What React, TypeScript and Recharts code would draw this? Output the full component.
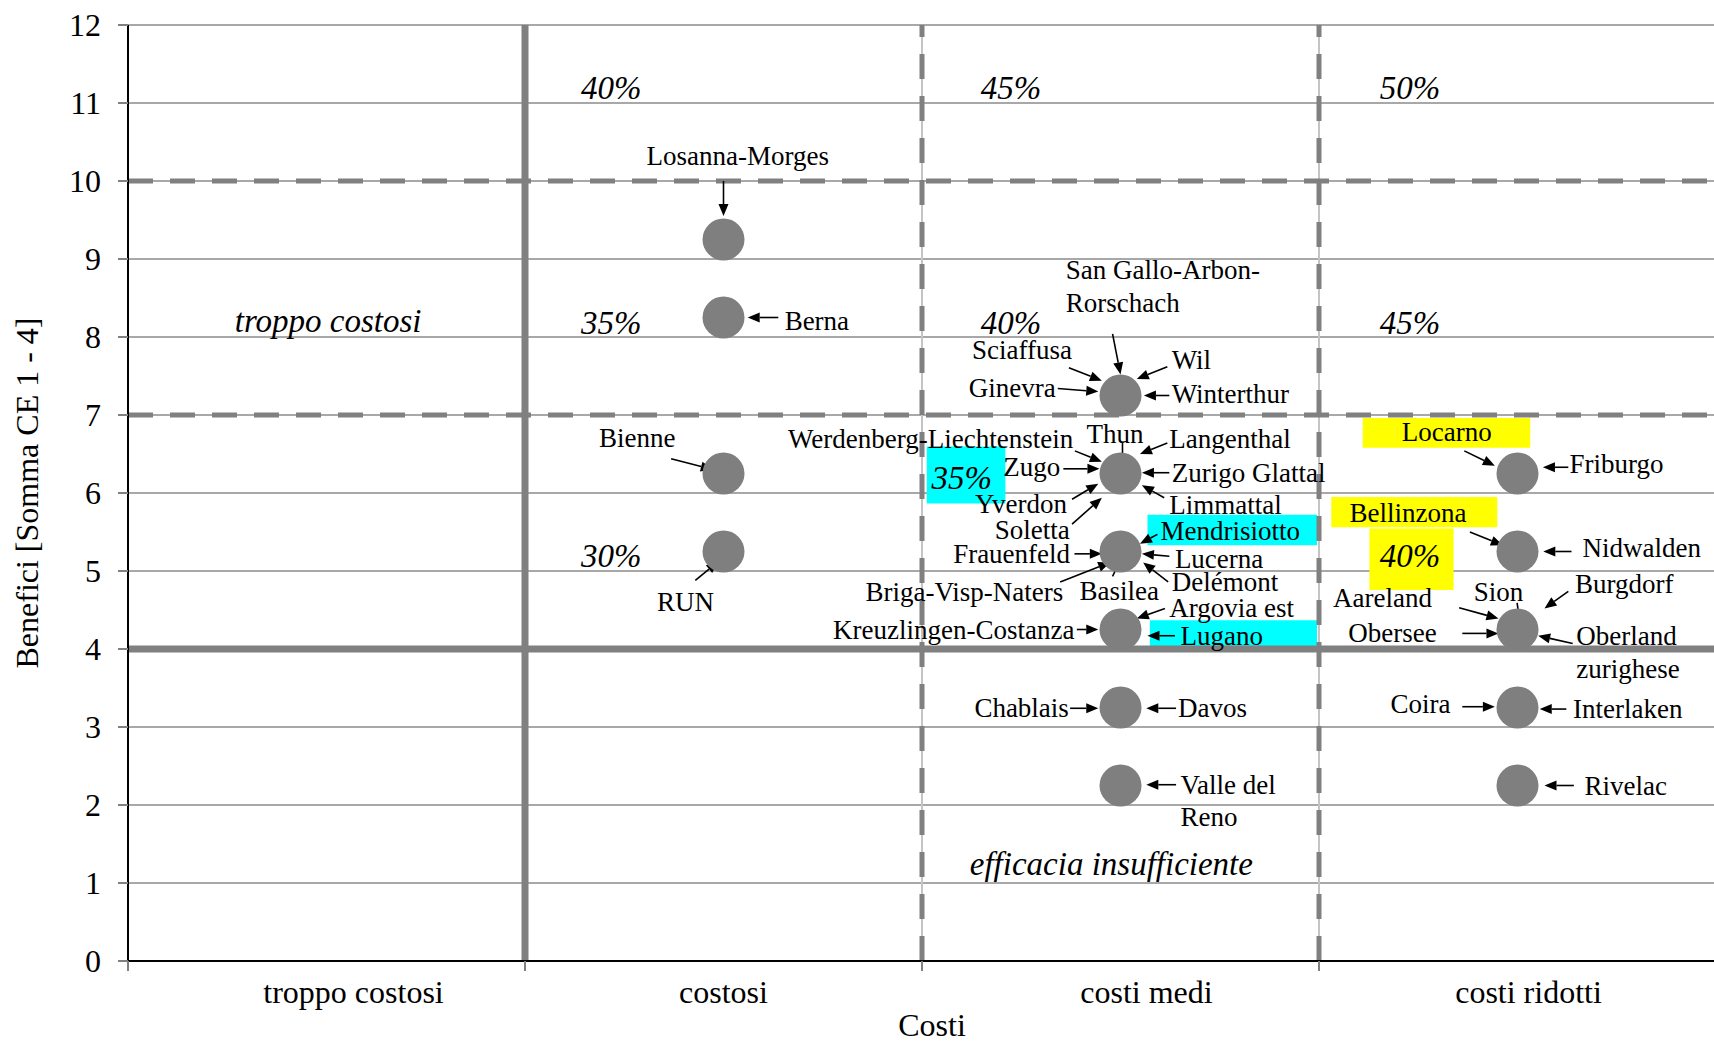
import {
  CartesianGrid,
  ReferenceArea,
  ReferenceLine,
  Scatter,
  ScatterChart,
  XAxis,
  YAxis,
} from "recharts";

const FONT = "'Liberation Serif', 'Times New Roman', serif";

const categories = ["troppo costosi", "costosi", "costi medi", "costi ridotti"];
const xTicks = [0, 0.5, 1, 1.5, 2, 2.5, 3, 3.5, 4];
const yTicks = [0, 1, 2, 3, 4, 5, 6, 7, 8, 9, 10, 11, 12];

// benefit scores of the agglomerations, per cost column
const costosiValues = [9.25, 8.25, 6.25, 5.25];
const costiMediValues = [7.25, 6.25, 5.25, 4.25, 3.25, 2.25];
const costiRidottiValues = [6.25, 5.25, 4.25, 3.25, 2.25];

const points = [
  ...costosiValues.map((y) => ({ x: 1.5, y })),
  ...costiMediValues.map((y) => ({ x: 2.5, y })),
  ...costiRidottiValues.map((y) => ({ x: 3.5, y })),
];

// name labels: position in data units, anchor s/m/e
const names = [
  { text: "Losanna-Morges", x: 1.536, y: 10.325, a: "m" },
  { text: "Berna", x: 1.654, y: 8.2, a: "s" },
  { text: "Bienne", x: 1.283, y: 6.71, a: "m" },
  { text: "RUN", x: 1.404, y: 4.605, a: "m" },
  { text: "San Gallo-Arbon-", x: 2.362, y: 8.853, a: "s" },
  { text: "Rorschach", x: 2.362, y: 8.432, a: "s" },
  { text: "Sciaffusa", x: 2.252, y: 7.83, a: "m" },
  { text: "Wil", x: 2.629, y: 7.7, a: "s" },
  { text: "Ginevra", x: 2.337, y: 7.35, a: "e" },
  { text: "Winterthur", x: 2.629, y: 7.27, a: "s" },
  { text: "Werdenberg-Liechtenstein", x: 2.381, y: 6.69, a: "e" },
  { text: "Thun", x: 2.486, y: 6.76, a: "m" },
  { text: "Langenthal", x: 2.623, y: 6.69, a: "s" },
  { text: "Zugo", x: 2.348, y: 6.33, a: "e" },
  { text: "Zurigo Glattal", x: 2.629, y: 6.26, a: "s" },
  { text: "Yverdon", x: 2.365, y: 5.86, a: "e" },
  { text: "Limmattal", x: 2.623, y: 5.85, a: "s" },
  { text: "Soletta", x: 2.372, y: 5.52, a: "e" },
  { text: "Mendrisiotto", x: 2.601, y: 5.516, a: "s" },
  { text: "Frauenfeld", x: 2.373, y: 5.22, a: "e" },
  { text: "Lucerna", x: 2.637, y: 5.15, a: "s" },
  { text: "Delémont", x: 2.629, y: 4.86, a: "s" },
  { text: "Basilea", x: 2.497, y: 4.745, a: "m" },
  { text: "Briga-Visp-Naters", x: 2.356, y: 4.73, a: "e" },
  { text: "Argovia est", x: 2.623, y: 4.52, a: "s" },
  { text: "Kreuzlingen-Costanza", x: 2.384, y: 4.25, a: "e" },
  { text: "Lugano", x: 2.651, y: 4.17, a: "s" },
  { text: "Chablais", x: 2.37, y: 3.24, a: "e" },
  { text: "Davos", x: 2.645, y: 3.24, a: "s" },
  { text: "Valle del", x: 2.651, y: 2.26, a: "s" },
  { text: "Reno", x: 2.651, y: 1.85, a: "s" },
  { text: "Locarno", x: 3.322, y: 6.78, a: "m" },
  { text: "Friburgo", x: 3.631, y: 6.37, a: "s" },
  { text: "Bellinzona", x: 3.224, y: 5.747, a: "m" },
  { text: "Nidwalden", x: 3.664, y: 5.29, a: "s" },
  { text: "Sion", x: 3.452, y: 4.73, a: "m" },
  { text: "Aareland", x: 3.16, y: 4.65, a: "m" },
  { text: "Obersee", x: 3.185, y: 4.21, a: "m" },
  { text: "Burgdorf", x: 3.645, y: 4.83, a: "s" },
  { text: "Oberland", x: 3.648, y: 4.17, a: "s" },
  { text: "zurighese", x: 3.648, y: 3.75, a: "s" },
  { text: "Coira", x: 3.331, y: 3.3, a: "e" },
  { text: "Interlaken", x: 3.64, y: 3.23, a: "s" },
  { text: "Rivelac", x: 3.669, y: 2.25, a: "s" },
];

// italic notes: shares and zone names
const notes = [
  { text: "troppo costosi", x: 0.504, y: 8.21 },
  { text: "40%", x: 1.217, y: 11.19 },
  { text: "45%", x: 2.224, y: 11.19 },
  { text: "50%", x: 3.229, y: 11.19 },
  { text: "35%", x: 1.217, y: 8.18 },
  { text: "40%", x: 2.224, y: 8.18 },
  { text: "45%", x: 3.229, y: 8.18 },
  { text: "30%", x: 1.217, y: 5.19 },
  { text: "35%", x: 2.1, y: 6.19 },
  { text: "40%", x: 3.229, y: 5.19 },
  { text: "efficacia insufficiente", x: 2.477, y: 1.24 },
];

// coloured boxes behind some labels
const highlights = [
  { x1: 2.012, x2: 2.21, y1: 5.866, y2: 6.595, fill: "#00FFFF" },
  { x1: 2.568, x2: 2.995, y1: 5.33, y2: 5.72, fill: "#00FFFF" },
  { x1: 2.574, x2: 2.995, y1: 4.015, y2: 4.37, fill: "#00FFFF" },
  { x1: 3.11, x2: 3.532, y1: 6.58, y2: 6.96, fill: "#FFFF00" },
  { x1: 3.031, x2: 3.449, y1: 5.56, y2: 5.95, fill: "#FFFF00" },
  { x1: 3.127, x2: 3.339, y1: 4.757, y2: 5.545, fill: "#FFFF00" },
];

// arrows: tail (x1,y1) -> head (x2,y2)
const arrows = [
  [1.5, 10.0, 1.5, 9.55],
  [1.638, 8.25, 1.561, 8.25],
  [1.368, 6.44, 1.473, 6.3],
  [1.429, 4.88, 1.487, 5.12],
  [2.48, 8.04, 2.5, 7.52],
  [2.37, 7.605, 2.453, 7.44],
  [2.618, 7.62, 2.541, 7.46],
  [2.342, 7.34, 2.444, 7.3],
  [2.623, 7.25, 2.559, 7.25],
  [2.385, 6.54, 2.453, 6.4],
  [2.505, 6.64, 2.505, 6.32],
  [2.618, 6.64, 2.549, 6.5],
  [2.356, 6.31, 2.447, 6.31],
  [2.623, 6.26, 2.554, 6.26],
  [2.378, 5.92, 2.444, 6.12],
  [2.378, 5.6, 2.453, 5.94],
  [2.61, 5.94, 2.554, 6.1],
  [2.593, 5.47, 2.549, 5.35],
  [2.384, 5.22, 2.453, 5.22],
  [2.623, 5.19, 2.554, 5.22],
  [2.62, 4.86, 2.557, 5.11],
  [2.48, 4.93, 2.505, 5.2],
  [2.348, 4.86, 2.474, 5.11],
  [2.612, 4.52, 2.541, 4.39],
  [2.39, 4.25, 2.444, 4.25],
  [2.637, 4.17, 2.568, 4.17],
  [2.373, 3.24, 2.444, 3.24],
  [2.64, 3.24, 2.565, 3.24],
  [2.64, 2.26, 2.565, 2.26],
  [3.366, 6.54, 3.443, 6.35],
  [3.628, 6.33, 3.564, 6.33],
  [3.38, 5.5, 3.463, 5.33],
  [3.636, 5.25, 3.565, 5.25],
  [3.499, 4.59, 3.507, 4.3],
  [3.353, 4.53, 3.452, 4.39],
  [3.361, 4.2, 3.452, 4.2],
  [3.628, 4.74, 3.568, 4.52],
  [3.639, 4.07, 3.552, 4.17],
  [3.361, 3.26, 3.443, 3.26],
  [3.623, 3.23, 3.556, 3.23],
  [3.642, 2.25, 3.568, 2.25],
];

const anchors: Record<string, string> = { s: "start", m: "middle", e: "end" };
// the category captions are not quite centred in the original
const captionShift = [27, 0, 26, 11];

function CostTick(props: any) {
  const { x, y, payload } = props;
  const v = payload.value;
  if (Number.isInteger(v)) {
    return <line x1={x} x2={x} y1={y} y2={y + 10} stroke="#808080" strokeWidth={2} />;
  }
  const i = Math.floor(v);
  return (
    <text x={x + captionShift[i]} y={y + 42} textAnchor="middle" fontFamily={FONT} fontSize={32} fill="#000">
      {categories[i]}
    </text>
  );
}

function Arrow(props: any) {
  const x1 = Number(props.x1);
  const y1 = Number(props.y1);
  const x2 = Number(props.x2);
  const y2 = Number(props.y2);
  const len = Math.hypot(x2 - x1, y2 - y1) || 1;
  const ux = (x2 - x1) / len;
  const uy = (y2 - y1) / len;
  const bx = x2 - ux * 12;
  const by = y2 - uy * 12;
  const head = `${x2},${y2} ${bx - uy * 5},${by + ux * 5} ${bx + uy * 5},${by - ux * 5}`;
  return (
    <g>
      <line x1={x1} y1={y1} x2={bx} y2={by} stroke="#000" strokeWidth={1.6} />
      <polygon points={head} fill="#000" />
    </g>
  );
}

export default function App() {
  return (
    <div style={{ position: "absolute", left: 0, top: 0, width: 1714, height: 1043, overflow: "hidden", background: "#fff" }}>
      <ScatterChart width={1730} height={1043} margin={{ top: 25, right: 14, left: 0, bottom: 0 }}>
        <CartesianGrid vertical={false} stroke="#a8a8a8" strokeWidth={2} />
        <XAxis
          type="number"
          dataKey="x"
          domain={[0, 4]}
          ticks={xTicks}
          interval={0}
          height={82}
          tickSize={0}
          tickMargin={0}
          tickLine={false}
          tick={<CostTick />}
          axisLine={{ stroke: "#000", strokeWidth: 2 }}
          label={{ value: "Costi", position: "insideBottom", offset: 7, dx: 10, style: { fontFamily: FONT, fontSize: 32, fill: "#000" } }}
        />
        <YAxis
          type="number"
          dataKey="y"
          domain={[0, 12]}
          ticks={yTicks}
          interval={0}
          width={128}
          tickSize={10}
          tickMargin={17}
          tickLine={{ stroke: "#808080", strokeWidth: 2 }}
          axisLine={{ stroke: "#000", strokeWidth: 2 }}
          tick={{ fontFamily: FONT, fontSize: 32, fill: "#000" }}
          label={{
            value: "Benefici [Somma CE 1 - 4]",
            angle: -90,
            position: "insideLeft",
            offset: 27,
            style: { fontFamily: FONT, fontSize: 32, fill: "#000", textAnchor: "middle" },
          }}
        />
        <ReferenceLine x={2} stroke="#c4c4c4" strokeWidth={2} />
        <ReferenceLine x={3} stroke="#c4c4c4" strokeWidth={2} />
        <ReferenceLine y={10} stroke="#808080" strokeWidth={5} strokeDasharray="25 17" />
        <ReferenceLine y={7} stroke="#808080" strokeWidth={5} strokeDasharray="25 17" />
        <ReferenceLine x={2} stroke="#808080" strokeWidth={5} strokeDasharray="25 17" />
        <ReferenceLine x={3} stroke="#808080" strokeWidth={5} strokeDasharray="25 17" />
        <ReferenceLine y={4} stroke="#808080" strokeWidth={7} />
        <ReferenceLine x={1} stroke="#808080" strokeWidth={7} />
        {highlights.map((h, i) => (
          <ReferenceArea key={"h" + i} x1={h.x1} x2={h.x2} y1={h.y1} y2={h.y2} fill={h.fill} fillOpacity={1} stroke="none" />
        ))}
        <Scatter
          data={points}
          isAnimationActive={false}
          shape={(p: any) => <circle cx={p.cx} cy={p.cy} r={21} fill="#7f7f7f" />}
        />
        {arrows.map((a, i) => (
          <ReferenceLine
            key={"a" + i}
            segment={[
              { x: a[0], y: a[1] },
              { x: a[2], y: a[3] },
            ]}
            shape={(p: any) => <Arrow {...p} />}
          />
        ))}
        <Scatter
          data={names}
          isAnimationActive={false}
          shape={(p: any) => (
            <text
              x={p.cx}
              y={p.cy}
              textAnchor={anchors[p.payload.a]}
              dominantBaseline="central"
              fontFamily={FONT}
              fontSize={27}
              fill="#000"
            >
              {p.payload.text}
            </text>
          )}
        />
        <Scatter
          data={notes}
          isAnimationActive={false}
          shape={(p: any) => (
            <text
              x={p.cx}
              y={p.cy}
              textAnchor="middle"
              dominantBaseline="central"
              fontFamily={FONT}
              fontStyle="italic"
              fontSize={33}
              fill="#000"
            >
              {p.payload.text}
            </text>
          )}
        />
      </ScatterChart>
    </div>
  );
}
